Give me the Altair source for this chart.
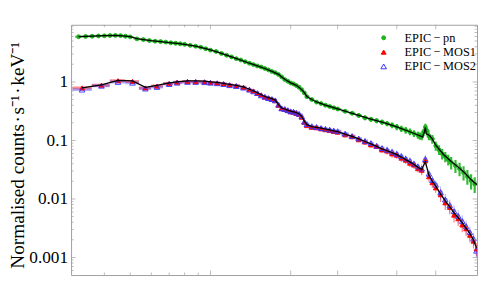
import altair as alt
import pandas as pd
import numpy as np

# ---------------- data (energies in keV, normalised counts s^-1 keV^-1) ----------------
det_names = ["EPIC\u2009\u2212\u2009pn", "EPIC\u2009\u2212\u2009MOS1", "EPIC\u2009\u2212\u2009MOS2"]

pn_e = [0.32, 0.34, 0.36, 0.38, 0.40, 0.42, 0.44, 0.46, 0.48, 0.50,
        0.53, 0.56, 0.59, 0.62, 0.65, 0.68, 0.71, 0.74, 0.77, 0.80,
        0.84, 0.88, 0.92, 0.96,
        1.00, 1.05, 1.10, 1.15, 1.20, 1.25, 1.30, 1.35, 1.40, 1.45,
        1.50, 1.55, 1.60, 1.65, 1.70, 1.75, 1.80, 1.85, 1.90, 1.95,
        2.00, 2.05, 2.10, 2.15, 2.20, 2.25, 2.30, 2.40, 2.50, 2.60, 2.70, 2.80, 2.90,
        3.0, 3.2, 3.4, 3.6, 3.8, 4.0, 4.2, 4.4, 4.6, 4.8,
        5.0, 5.2, 5.4, 5.6, 5.8, 6.0, 6.1, 6.2, 6.3, 6.4, 6.5, 6.6,
        6.8, 7.0, 7.2, 7.4, 7.6, 7.8,
        8.0, 8.3, 8.6, 8.9, 9.2, 9.5, 9.8]
pn_val = [5.93, 6.0, 6.05, 6.12, 6.15, 6.22, 6.25, 6.2, 6.05, 5.9,
          5.45, 5.3, 5.1, 4.98, 4.9, 4.8, 4.68, 4.58, 4.5, 4.4,
          4.22, 4.08, 3.92, 3.70,
          3.50, 3.32, 3.07, 2.86, 2.68, 2.50, 2.37, 2.22, 2.09, 1.98,
          1.88, 1.80, 1.70, 1.61, 1.51, 1.44, 1.34, 1.22, 1.10, 1.03,
          0.96, 0.925, 0.87, 0.81, 0.735, 0.65, 0.56, 0.50, 0.452, 0.427, 0.40, 0.38, 0.362,
          0.345, 0.316, 0.292, 0.268, 0.244, 0.230, 0.218, 0.206, 0.194, 0.182,
          0.170, 0.159, 0.150, 0.141, 0.132, 0.124, 0.120, 0.117, 0.139, 0.169, 0.144, 0.119,
          0.106, 0.081, 0.0693, 0.0593, 0.0530, 0.047,
          0.042, 0.0372, 0.033, 0.0284, 0.0243, 0.0205, 0.0180]
pn_err = [0.015, 0.015, 0.015, 0.015, 0.015, 0.015, 0.015, 0.015, 0.015, 0.015,
          0.015, 0.015, 0.015, 0.015, 0.015, 0.015, 0.015, 0.015, 0.015, 0.015,
          0.015, 0.015, 0.015, 0.015,
          0.025, 0.025, 0.025, 0.025, 0.025, 0.025, 0.025, 0.025, 0.025, 0.025,
          0.03, 0.03, 0.03, 0.03, 0.03, 0.03, 0.03, 0.03, 0.03, 0.03,
          0.04, 0.04, 0.04, 0.04, 0.04, 0.04, 0.05, 0.05, 0.05, 0.05, 0.06, 0.06, 0.06,
          0.08, 0.08, 0.08, 0.09, 0.09, 0.09, 0.10, 0.10, 0.10, 0.11,
          0.12, 0.12, 0.13, 0.13, 0.13, 0.14, 0.14, 0.14, 0.14, 0.14, 0.15, 0.15,
          0.17, 0.18, 0.19, 0.20, 0.20, 0.21,
          0.24, 0.25, 0.26, 0.27, 0.28, 0.29, 0.30]

pn_model_e = [0.32, 0.36, 0.40, 0.44, 0.48, 0.50, 0.53, 0.56, 0.60, 0.65,
              0.70, 0.75, 0.80, 0.88, 0.96, 1.0, 1.1, 1.2, 1.3, 1.4,
              1.5, 1.6, 1.7, 1.8, 1.85, 1.9, 2.0, 2.1, 2.2, 2.25,
              2.3, 2.4, 2.5, 2.7, 3.0, 3.5, 4.0, 4.5, 5.0, 5.5,
              6.0, 6.25, 6.35, 6.4, 6.45, 6.55, 6.65, 6.8, 7.0, 7.5,
              8.0, 8.5, 9.0, 9.5, 10.0]
pn_model = [5.95, 6.08, 6.18, 6.25, 6.1, 5.95, 5.5, 5.3, 5.08, 4.9,
            4.72, 4.56, 4.4, 4.1, 3.72, 3.52, 3.08, 2.68, 2.37, 2.09,
            1.88, 1.70, 1.52, 1.35, 1.22, 1.11, 0.965, 0.875, 0.74, 0.655,
            0.565, 0.50, 0.455, 0.403, 0.346, 0.28, 0.231, 0.200, 0.170, 0.145,
            0.124, 0.115, 0.14, 0.168, 0.13, 0.125, 0.12, 0.105, 0.083, 0.057,
            0.0435, 0.035, 0.0278, 0.0212, 0.0175]

mos_e = [0.33, 0.39, 0.45, 0.51, 0.57, 0.63, 0.70, 0.75, 0.82, 0.88,
         0.95, 1.00, 1.06, 1.12, 1.18, 1.25, 1.33, 1.40, 1.45, 1.50,
         1.55, 1.60, 1.65, 1.70, 1.75, 1.80, 1.85, 1.90, 1.95, 2.00,
         2.05, 2.10, 2.15, 2.20, 2.25, 2.30, 2.40, 2.50, 2.60, 2.70,
         2.80, 2.90, 3.00, 3.20, 3.40, 3.60, 3.80, 4.00, 4.20, 4.40,
         4.60, 4.80, 5.00, 5.20, 5.40, 5.60, 5.80, 6.00, 6.20, 6.40,
         6.60, 6.80, 7.00, 7.30, 7.60, 7.90, 8.20, 8.50, 8.80, 9.10,
         9.40, 9.70, 9.95]
mos1_val = [0.79, 0.88, 1.05, 1.02, 0.79, 0.85, 0.94, 0.99, 1.02, 1.01,
            1.00, 0.98, 0.96, 0.93, 0.89, 0.86, 0.81, 0.74, 0.70, 0.64,
            0.60, 0.55, 0.53, 0.51, 0.48, 0.40, 0.35, 0.34, 0.325, 0.31,
            0.305, 0.29, 0.28, 0.25, 0.205, 0.18, 0.168, 0.165, 0.158, 0.153,
            0.149, 0.143, 0.139, 0.125, 0.116, 0.103, 0.094, 0.084, 0.079, 0.069,
            0.066, 0.059, 0.056, 0.050, 0.046, 0.041, 0.038, 0.033, 0.031, 0.045,
            0.024, 0.019, 0.0155, 0.0118, 0.0086, 0.0072, 0.0053, 0.0046, 0.0036, 0.0031,
            0.0024, 0.0019, 0.0014]
mos2_val = [0.74, 0.86, 1.00, 0.97, 0.77, 0.82, 0.92, 0.97, 1.00, 1.00,
            0.99, 0.97, 0.95, 0.92, 0.88, 0.85, 0.80, 0.74, 0.69, 0.645,
            0.59, 0.56, 0.53, 0.51, 0.485, 0.41, 0.355, 0.345, 0.33, 0.315,
            0.31, 0.30, 0.285, 0.26, 0.21, 0.19, 0.175, 0.17, 0.163, 0.158,
            0.153, 0.148, 0.144, 0.131, 0.119, 0.108, 0.098, 0.090, 0.081, 0.074,
            0.069, 0.064, 0.059, 0.054, 0.049, 0.045, 0.040, 0.036, 0.033, 0.048,
            0.027, 0.021, 0.0175, 0.013, 0.0098, 0.0078, 0.0062, 0.0051, 0.0042, 0.0034,
            0.0027, 0.0021, 0.0013]
mos_err = [0.04, 0.04, 0.04, 0.04, 0.04, 0.04, 0.04, 0.04, 0.04, 0.04,
           0.04, 0.04, 0.04, 0.04, 0.04, 0.04, 0.04, 0.05, 0.05, 0.05,
           0.05, 0.05, 0.05, 0.05, 0.05, 0.05, 0.05, 0.05, 0.05, 0.05,
           0.07, 0.07, 0.07, 0.07, 0.07, 0.07, 0.07, 0.07, 0.07, 0.07,
           0.07, 0.07, 0.10, 0.10, 0.10, 0.10, 0.10, 0.10, 0.10, 0.10,
           0.14, 0.14, 0.14, 0.14, 0.14, 0.14, 0.14, 0.14, 0.18, 0.18,
           0.18, 0.18, 0.18, 0.25, 0.25, 0.25, 0.25, 0.25, 0.25, 0.25,
           0.25, 0.25, 0.25]
mos_model = [0.793, 0.89, 1.06, 1.04, 0.808, 0.873, 0.962, 1.0, 1.04, 1.04,
             1.03, 1.0, 0.98, 0.944, 0.908, 0.873, 0.824, 0.751, 0.706, 0.653,
             0.605, 0.564, 0.538, 0.518, 0.49, 0.41, 0.358, 0.345, 0.329, 0.317,
             0.307, 0.298, 0.284, 0.258, 0.213, 0.186, 0.172, 0.167, 0.162, 0.156,
             0.151, 0.146, 0.142, 0.128, 0.117, 0.106, 0.096, 0.0873, 0.0793, 0.072,
             0.0667, 0.0617, 0.0571, 0.052, 0.047, 0.043, 0.0387, 0.035, 0.0319, 0.0435,
             0.0253, 0.020, 0.0166, 0.0121, 0.0093, 0.00735, 0.00581, 0.00481, 0.00395, 0.00314,
             0.00259, 0.00197, 0.00146]

# axis tick positions (frame ticks, no labels on x)
x_major = [1, 2, 3, 5, 7]
x_minor = [0.4, 0.5, 0.6, 0.7, 0.8, 0.9]
y_major = [0.001, 0.01, 0.1, 1]
y_minor = [0.0006, 0.0007, 0.0008, 0.0009,
           0.002, 0.003, 0.004, 0.005, 0.006, 0.007, 0.008, 0.009,
           0.02, 0.03, 0.04, 0.05, 0.06, 0.07, 0.08, 0.09,
           0.2, 0.3, 0.4, 0.5, 0.6, 0.7, 0.8, 0.9,
           2, 3, 4, 5, 6, 7, 8, 9]

# ---------------- styling ----------------
SERIF = "Liberation Serif"
GREEN = "#1db31d"
RED = "#ff0000"
BLUE = "#3434ff"
GRAY = "#a0a0a0"
X_DOM = [0.3, 10]
Y_DOM = [0.0005, 9.5]

xs = alt.Scale(type="log", domain=X_DOM, nice=False)
ys = alt.Scale(type="log", domain=Y_DOM, nice=False)
xaxis = alt.Axis(labels=False, ticks=False, domain=False, grid=False, title=None)
yaxis = alt.Axis(values=y_major, format="~g", ticks=False, domain=False, grid=False,
                 title="Normalised counts\u200a\u00b7\u200as\u207b\u00b9\u200a\u00b7\u200akeV\u207b\u00b9",
                 labelFont=SERIF, labelFontSize=17.5, labelColor="black", labelPadding=3.5,
                 titleFont=SERIF, titleFontSize=19.5, titleFontWeight="normal", titleColor="black",
                 titleAngle=270, titleAlign="left", titleBaseline="alphabetic",
                 titleX=-48, titleY=247)


def X(f):
    return alt.X(f, type="quantitative", scale=xs, axis=xaxis)


def Y(f):
    return alt.Y(f, type="quantitative", scale=ys, axis=yaxis)


def bins(e):
    e = np.asarray(e, dtype=float)
    mid = np.sqrt(e[1:] * e[:-1])
    lo = np.concatenate([[e[0] ** 2 / mid[0]], mid])
    hi = np.concatenate([mid, [e[-1] ** 2 / mid[-1]]])
    return lo, hi


def frame(e, v, err, name):
    lo, hi = bins(e)
    v = np.asarray(v, dtype=float)
    err = np.asarray(err, dtype=float)
    return pd.DataFrame({"E": e, "v": v, "lo": v * (1 - err), "hi": v * (1 + err),
                         "Elo": lo, "Ehi": hi, "det": name})


d_pn = frame(pn_e, pn_val, pn_err, det_names[0])
d_m1 = frame(mos_e, mos1_val, mos_err, det_names[1])
d_m2 = frame(mos_e, mos2_val, mos_err, det_names[2])
d_all = pd.concat([d_pn, d_m1, d_m2], ignore_index=True)


def errbars(df, color, wy, wx, op, opx):
    yb = alt.Chart(df).mark_rule(color=color, strokeWidth=wy, opacity=op, clip=True).encode(
        x=X("E"), y=Y("lo"), y2="hi")
    xb = alt.Chart(df).mark_rule(color=color, strokeWidth=wx, opacity=opx, clip=True).encode(
        x=X("Elo"), x2="Ehi", y=Y("v"))
    return [xb, yb]


layers = []
layers += errbars(d_pn, GREEN, 2.2, 2.0, 0.9, 0.65)
layers += errbars(d_m1, RED, 1.2, 3.0, 0.5, 0.45)
layers += errbars(d_m2, BLUE, 1.0, 3.0, 0.4, 0.38)

points = alt.Chart(d_all).mark_point(opacity=1, strokeWidth=0.9, clip=True).encode(
    x=X("E"), y=Y("v"),
    fill=alt.Fill("det:N", scale=alt.Scale(domain=det_names, range=[GREEN, RED, "transparent"]), title=None),
    stroke=alt.Stroke("det:N", scale=alt.Scale(domain=det_names, range=[GREEN, RED, BLUE]), title=None),
    shape=alt.Shape("det:N", scale=alt.Scale(domain=det_names, range=["circle", "triangle-up", "triangle-up"]), title=None),
    size=alt.Size("det:N", scale=alt.Scale(domain=det_names, range=[16, 32, 32]), title=None),
)
layers.append(points)

d_model = pd.concat([
    pd.DataFrame({"E": pn_model_e, "v": pn_model, "m": "pn"}),
    pd.DataFrame({"E": mos_e, "v": mos_model, "m": "mos"}),
], ignore_index=True)
model = alt.Chart(d_model).mark_line(color="black", strokeWidth=1.3, clip=True).encode(
    x=X("E"), y=Y("v"), detail="m:N")
layers.append(model)


def xticks(vals, ypos, size):
    return alt.Chart(pd.DataFrame({"t": vals})).mark_tick(
        orient="vertical", size=size, thickness=1, color=GRAY, clip=True).encode(
        x=X("t"), y=alt.YDatum(ypos, scale=ys, axis=yaxis))


def yticks(vals, xpos, size):
    return alt.Chart(pd.DataFrame({"t": vals})).mark_tick(
        orient="horizontal", size=size, thickness=1, color=GRAY, clip=True).encode(
        y=Y("t"), x=alt.XDatum(xpos, scale=xs, axis=xaxis))


for yp in Y_DOM:
    layers.append(xticks(x_major, yp, 9))
    layers.append(xticks(x_minor, yp, 5))
for xp in X_DOM:
    layers.append(yticks(y_major, xp, 9))
    layers.append(yticks(y_minor, xp, 5))

chart = alt.layer(*layers).properties(
    width=412, height=254,
    autosize=alt.AutoSizeParams(type="none"),
    padding={"left": 64, "top": 15, "right": 2, "bottom": 2},
).configure_view(
    stroke=GRAY, strokeWidth=1
).configure_legend(
    orient="none", legendX=311, legendY=7, padding=0,
    labelFont=SERIF, labelFontSize=12.5, labelColor="black",
    symbolStrokeWidth=1, rowPadding=1.5, labelOffset=15
)

chart.save("out.html", embed_options={"renderer": "svg", "actions": False})
